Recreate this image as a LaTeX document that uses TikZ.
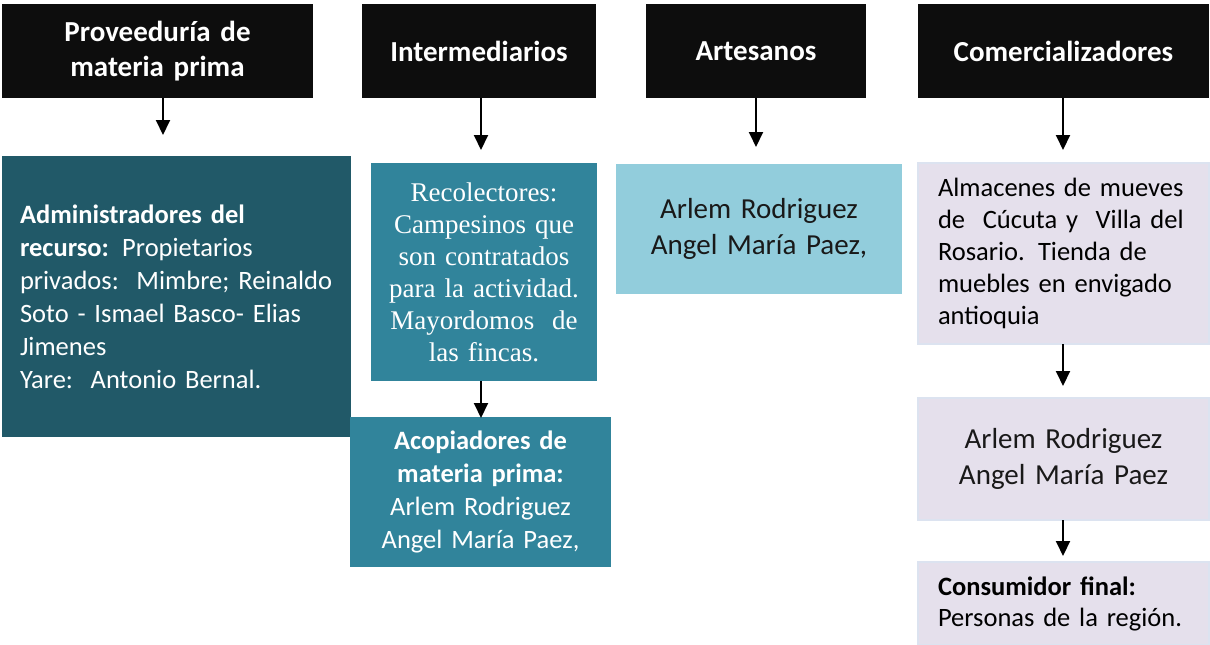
\documentclass[tikz,border=0pt]{standalone}
\usepackage{fontspec}
\setmainfont{Carlito}
\newfontfamily\timesfont{Liberation Serif}
\usetikzlibrary{arrows.meta}
\definecolor{hdr}{HTML}{0D0D0D}
\definecolor{darkteal}{HTML}{215968}
\definecolor{teal}{HTML}{31849B}
\definecolor{lightblue}{HTML}{92CDDC}
\definecolor{lavender}{HTML}{E5E0EC}
\definecolor{lavline}{HTML}{DCE3F0}
\begin{document}
\begin{tikzpicture}[x=1pt,y=-1pt,
  box/.style={inner ysep=0pt, outer sep=0pt, anchor=center},
  hdrbox/.style={box, inner xsep=4pt, fill=hdr, text=white, align=center, minimum height=94pt,
     font=\fontsize{29}{35.5}\selectfont\bfseries},
  bodyfont/.style={font=\fontsize{26.5}{33}\selectfont},
  bigfont/.style={font=\fontsize{29}{36}\selectfont},
  arr/.style={line width=2pt, -{Triangle[width=14pt,length=15pt]}}
]
\useasboundingbox (0,0) rectangle (1210,645);
% headers
\node[hdrbox, minimum width=311pt, text width=303pt] (h1) at (157.5,51) {Proveeduría de\\materia prima};
\node[hdrbox, minimum width=234pt, text width=226pt] (h2) at (479,51) {Intermediarios};
\node[hdrbox, minimum width=220pt, text width=212pt] (h3) at (756,51) {Artesanos};
\node[hdrbox, minimum width=291pt, text width=283pt] (h4) at (1063.5,51) {Comercializadores};
% column 1
\node[box, fill=darkteal, text=white, bodyfont, align=left, inner xsep=18pt,
      minimum width=349pt, minimum height=281pt, text width=313pt] (adm) at (176.5,296.5)
  {\textbf{Administradores del}\\\textbf{recurso:} Propietarios\\privados:\ \ Mimbre; Reinaldo\\Soto - Ismael Basco- Elias\\Jimenes\\Yare:\ \ Antonio Bernal.};
% column 2
\node[box, fill=teal, text=white, align=center, inner xsep=8pt,
      font=\timesfont\fontsize{27}{32}\selectfont,
      minimum width=226pt, minimum height=218pt, text width=210pt] (rec) at (484,272)
  {Recolectores:\\Campesinos que\\son contratados\\para la actividad.\\Mayordomos\ \ de\\las fincas.};
\node[box, fill=teal, text=white, align=center, inner xsep=8pt, bodyfont,
      minimum width=261pt, minimum height=150pt, text width=245pt] (aco) at (480.5,492)
  {\textbf{Acopiadores de}\\\textbf{materia prima:}\\Arlem Rodriguez\\Angel María Paez,};
% column 3
\node[box, fill=lightblue, text=black!90, align=center, inner xsep=8pt, bigfont,
      minimum width=286pt, minimum height=130pt, text width=270pt] (art) at (759,229)
  {Arlem Rodriguez\\Angel María Paez,};
% column 4
\node[box, fill=lavender, draw=lavline, line width=1.2pt, text=black, align=left, inner xsep=20pt, bodyfont,
      font=\fontsize{26.5}{32}\selectfont,
      minimum width=291pt, minimum height=181pt, text width=251pt] (alm) at (1063.5,253.5)
  {Almacenes de mueves\\de\ \ Cúcuta y\ \ Villa del\\Rosario. Tienda de\\muebles en envigado\\antioquia};
\node[box, fill=lavender, draw=lavline, line width=1.2pt, text=black!90, align=center, inner xsep=8pt, bigfont,
      minimum width=291pt, minimum height=122pt, text width=275pt] (arl) at (1063.5,459)
  {Arlem Rodriguez\\Angel María Paez};
\node[box, fill=lavender, draw=lavline, line width=1.2pt, text=black, align=left, inner xsep=20pt,
      font=\fontsize{26.5}{31}\selectfont,
      minimum width=291pt, minimum height=83pt, text width=251pt] (con) at (1063.5,603.5)
  {\textbf{Consumidor final:}\\Personas de la región.};
% arrow end points
\coordinate (e1) at (163,135);
\coordinate (e2) at (481,150);
\coordinate (e3) at (756,147);
\coordinate (e4) at (1063,150);
\coordinate (e5) at (481,418);
\coordinate (e6) at (1063,386);
\coordinate (e7) at (1063,556);
% arrows
\draw[arr] (h1.south -| e1) -- (e1);
\draw[arr] (h2.south -| e2) -- (e2);
\draw[arr] (h3.south -| e3) -- (e3);
\draw[arr] (h4.south -| e4) -- (e4);
\draw[arr] (rec.south -| e5) -- (e5);
\draw[arr] (alm.south -| e6) -- (e6);
\draw[arr] (arl.south -| e7) -- (e7);
\end{tikzpicture}
\end{document}
